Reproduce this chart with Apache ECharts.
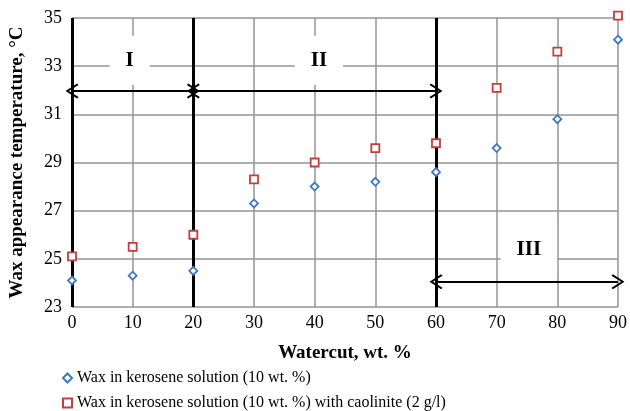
<!DOCTYPE html>
<html>
<head>
    <meta charset="UTF-8">
    <title>Wax appearance temperature</title>
    <script src="https://cdn.jsdelivr.net/npm/echarts@6/dist/echarts.min.js"></script>
    <style>
        html, body { margin: 0; padding: 0; background: #fff; }
        #main { width: 630px; height: 411px; }
    </style>
</head>
<body>
<div id="main"></div>
<script>
    // watercut, wt. %
    var watercut = [0, 10, 20, 30, 40, 50, 60, 70, 80, 90];
    // wax appearance temperature, °C
    var waxKerosene = [24.1, 24.3, 24.5, 27.3, 28.0, 28.2, 28.6, 29.6, 30.8, 34.1];
    var waxKaolinite = [25.1, 25.5, 26.0, 28.3, 29.0, 29.6, 29.8, 32.1, 33.6, 35.1];
    // region boundaries and labels
    var boundaries = [0, 20, 60];
    var regionLabels = [[9.5, 33.25, 'I'], [40.7, 33.25, 'II'], [75.3, 25.4, 'III']];
    var regionArrows = [[0, 20, 31.97], [20, 60, 31.97], [60, 90, 24.05]];
    var seriesNames = [
        'Wax in kerosene solution (10 wt. %)',
        'Wax in kerosene solution (10 wt. %) with caolinite (2 g/l)'
    ];

    var serif = 'Liberation Serif';
    var chevron = 'path://M10,0 L20,17 L18,19 L10,5 L2,19 L0,17 Z';

    function pairs(xs, ys) {
        return xs.map(function (x, i) { return [x, ys[i]]; });
    }

    function legendRow(name, icon, top) {
        return {
            left: 62,
            top: top,
            padding: 0,
            itemWidth: 9,
            itemHeight: 9,
            textStyle: { fontFamily: serif, fontSize: 16, color: '#000' },
            data: [{ name: name, icon: icon }]
        };
    }

    var option = {
        animation: false,
        textStyle: { fontFamily: serif, color: '#000' },
        grid: { left: 72, right: 8, top: 18, bottom: 104 },
        legend: [
            legendRow(seriesNames[0], 'diamond', 370),
            legendRow(seriesNames[1], 'rect', 395)
        ],
        xAxis: {
            type: 'value',
            min: 0, max: 90, interval: 10,
            name: 'Watercut, wt. %',
            nameLocation: 'middle',
            nameGap: 37,
            nameTextStyle: { fontFamily: serif, fontSize: 19, fontWeight: 'bold', color: '#000' },
            axisLine: { show: false },
            axisTick: { show: false },
            axisLabel: { fontFamily: serif, fontSize: 18, color: '#000', margin: 7 },
            splitLine: { show: true, lineStyle: { color: '#959595', width: 1.5 } }
        },
        yAxis: {
            type: 'value',
            min: 23, max: 35, interval: 2,
            name: 'Wax appearance temperature, °C',
            nameLocation: 'middle',
            nameGap: 45,
            nameTextStyle: { fontFamily: serif, fontSize: 19, fontWeight: 'bold', color: '#000' },
            axisLine: { show: false },
            axisTick: { show: false },
            axisLabel: { fontFamily: serif, fontSize: 18, color: '#000', margin: 10 },
            splitLine: { show: true, lineStyle: { color: '#959595', width: 1.5 } }
        },
        series: [
            {
                name: 'labels',
                type: 'scatter',
                symbolSize: 0,
                silent: true,
                z: 3,
                itemStyle: { opacity: 1 },
                data: regionLabels,
                label: {
                    show: true,
                    position: 'inside',
                    formatter: function (p) { return p.data[2]; },
                    fontFamily: serif,
                    fontSize: 21,
                    fontWeight: 'bold',
                    color: '#000',
                    backgroundColor: '#fff',
                    padding: [14, 16]
                },
                markLine: {
                    silent: true,
                    symbol: ['none', 'none'],
                    label: { show: false },
                    lineStyle: { color: '#000', width: 3, type: 'solid' },
                    data: boundaries.map(function (b) { return { xAxis: b }; })
                }
            },
            {
                name: 'arrows',
                type: 'line',
                data: [],
                markLine: {
                    silent: true,
                    symbol: [chevron, chevron],
                    symbolSize: [15, 13],
                    label: { show: false },
                    itemStyle: { color: '#000' },
                    lineStyle: { color: '#000', width: 2, type: 'solid' },
                    data: regionArrows.map(function (a) {
                        return [{ coord: [a[0], a[2]] }, { coord: [a[1], a[2]] }];
                    })
                }
            },
            {
                name: seriesNames[0],
                type: 'scatter',
                symbol: 'diamond',
                symbolSize: 8,
                clip: false,
                z: 5,
                itemStyle: { color: '#fff', borderColor: '#3f78c0', borderWidth: 1.8, opacity: 1 },
                data: pairs(watercut, waxKerosene)
            },
            {
                name: seriesNames[1],
                type: 'scatter',
                symbol: 'rect',
                symbolSize: 8,
                clip: false,
                z: 5,
                itemStyle: { color: '#fff', borderColor: '#c0403c', borderWidth: 1.8, opacity: 1 },
                data: pairs(watercut, waxKaolinite)
            }
        ]
    };

    var chart = echarts.init(document.getElementById('main'));
    chart.setOption(option);
</script>
</body>
</html>
